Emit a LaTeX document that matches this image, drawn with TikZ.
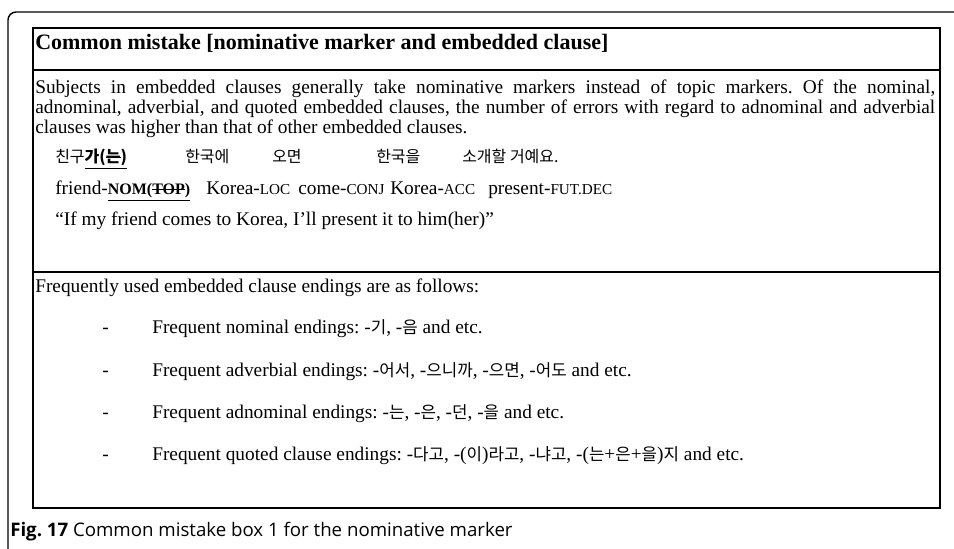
\documentclass[tikz,border=0pt]{standalone}
\usepackage{fontspec}
\setmainfont{Liberation Serif}
\newfontfamily\kr{Noto Sans CJK KR}
\newfontfamily\capfont{Open Sans}
\frenchspacing
\newcommand\fsc[1]{{\fontsize{11.4}{12}\selectfont #1}}
\newcommand\fscb[1]{{\fontsize{12}{12}\selectfont #1}}
\newcommand\strk[1]{\setbox0\hbox{#1}\rlap{\rule[0.3em]{\wd0}{0.6pt}}\box0}
\newcommand\kb[1]{{\kr\fontsize{12.6}{14}\selectfont #1}}
\begin{document}
\begin{tikzpicture}[x=0.75pt,y=-0.75pt,
  txt/.style={anchor=base west,inner sep=0pt,font=\fontsize{14.5}{15}\selectfont},
  krt/.style={anchor=base west,inner sep=0pt,font=\kr\fontsize{12}{13}\selectfont},
  frame/.style={line width=1.1pt},
  cell/.style={line width=0.8pt}]
\useasboundingbox (0,0) rectangle (954,549);
% outer frame
\draw[frame,rounded corners=6pt] (954,12) -- (8,12) -- (8,549);
% inner box
\draw[cell] (33,28) rectangle (940,508);
\draw[cell] (33,70) -- (940,70);
\draw[cell] (33,272) -- (940,272);
% title
\node[txt,font=\bfseries\fontsize{16.5}{18}\selectfont] (title) at (35,50) {Common mistake [nominative marker and embedded clause]};
% paragraph
\node[txt] (p1) at (35,94) {\hbox to 675pt{Subjects in embedded clauses generally take nominative markers instead of topic markers. Of the nominal,}};
\node[txt] (p2) at (35,114) {\hbox to 675pt{adnominal, adverbial, and quoted embedded clauses, the number of errors with regard to adnominal and adverbial}};
\node[txt] (p3) at (35,134) {clauses was higher than that of other embedded clauses.};
% korean example
\node[krt] (k1) at (55,163) {친구$\underline{\hbox{\textbf{가(\strk{는})}}}$};
\node[krt] (k2) at (185,163) {한국에};
\node[krt] (k3) at (272,163) {오면};
\node[krt] (k4) at (376,163) {한국을};
\node[krt] (k5) at (462,163) {소개할 거예요.};
% gloss
\node[txt] (g1) at (55,195) {friend-$\underline{\hbox{\textbf{\fscb{NOM(\strk{TOP})}}}}$};
\node[txt] (g2) at (206,195) {Korea-\fsc{LOC}};
\node[txt] (g3) at (298,195) {come-\fsc{CONJ}};
\node[txt] (g4) at (390,195) {Korea-\fsc{ACC}};
\node[txt] (g5) at (488,195) {present-\fsc{FUT.DEC}};
% translation
\node[txt] (tr) at (55,226) {“If my friend comes to Korea, I’ll present it to him(her)”};
% second part
\node[txt] (freq) at (35,292) {Frequently used embedded clause endings are as follows:};
\foreach \y/\n/\t in {334/b1/{Frequent nominal endings: -\kb{기}, -\kb{음} and etc.},
  376/b2/{Frequent adverbial endings: -\kb{어서}, -\kb{으니까}, -\kb{으면}, -\kb{어도} and etc.},
  418/b3/{Frequent adnominal endings: -\kb{는}, -\kb{은}, -\kb{던}, -\kb{을} and etc.},
  460/b4/{Frequent quoted clause endings: -\kb{다고}, -(\kb{이})\kb{라고}, -\kb{냐고}, -(\kb{는}+\kb{은}+\kb{을})\kb{지} and etc.}}{
  \node[txt] (d\n) at (102,\y) {-};
  \node[txt] (\n) at (152,\y) {\t};
}
% caption
\node[anchor=base west,inner sep=0pt,font=\capfont\fontsize{14}{16}\selectfont] (cap) at (10,536) {\textbf{Fig. 17} Common mistake box 1 for the nominative marker};
\end{tikzpicture}
\end{document}
